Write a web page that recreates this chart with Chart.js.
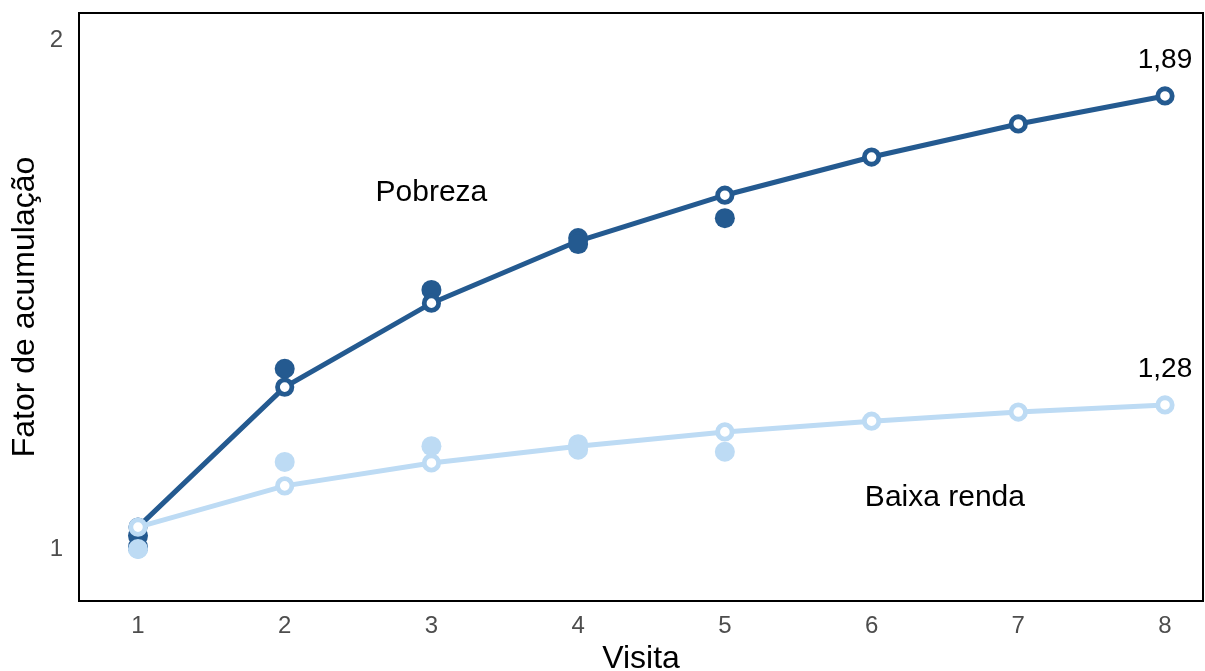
<!DOCTYPE html>
<html>
<head>
<meta charset="utf-8">
<script src="https://cdn.jsdelivr.net/npm/chart.js@4"></script>
<style>
  html, body { margin: 0; padding: 0; background: #fff; }
  #wrap { width: 1205px; height: 671px; }
</style>
</head>
<body>
<div id="wrap"><canvas id="accChart" width="1205" height="671"></canvas></div>
<script>
// visits on the x axis
const visits = [1, 2, 3, 4, 5, 6, 7, 8];
const xTicks = [1, 2, 3, 4, 5, 6, 7, 8];
const yTicks = [1, 2];

// fitted accumulation factor (lines with hollow points)
const pobrezaFit = [1.043, 1.318, 1.483, 1.605, 1.695, 1.770, 1.835, 1.890];
const baixaFit = [1.043, 1.124, 1.169, 1.202, 1.230, 1.251, 1.269, 1.283];

// observed values (filled dots), drawn below the lines
const pobrezaObsVisitsA = [1, 2, 3, 4];
const pobrezaObsA = [1.026, 1.354, 1.509, 1.611];
const baixaObsVisitsA = [1, 2, 3, 4];
const baixaObsA = [1.0, 1.171, 1.202, 1.206];

// observed values drawn on top of the lines
const pobrezaObsVisitsB = [1, 4, 5];
const pobrezaObsB = [1.004, 1.599, 1.650];
const baixaObsVisitsB = [1, 4, 5];
const baixaObsB = [1.0, 1.195, 1.191];

// text labels placed in data coordinates
const groupLabels = ['Pobreza', 'Baixa renda'];
const groupLabelX = [3, 6.5];
const groupLabelY = [1.699, 1.100];

const dark = '#245a90';
const light = '#bddbf4';
const fontFamily = '"Liberation Sans", Arial, sans-serif';

const pairs = (xs, ys) => xs.map((x, i) => ({ x: x, y: ys[i] }));

const obsStyle = (color) => ({
  type: 'scatter',
  backgroundColor: color,
  borderColor: color,
  pointRadius: 10,
  pointBorderWidth: 0,
  pointHoverRadius: 10,
  showLine: false
});

const fitStyle = (color) => ({
  type: 'line',
  borderColor: color,
  borderWidth: 5,
  pointBackgroundColor: '#ffffff',
  pointBorderColor: color,
  pointRadius: 7.2,
  pointBorderWidth: 4.8,
  pointHoverRadius: 7.2,
  tension: 0,
  fill: false
});

// no automatic label overflow padding, the plot box is fixed
const noPad = (s) => {
  s.paddingTop = 0;
  s.paddingBottom = 0;
  s.paddingLeft = 0;
  s.paddingRight = 0;
};

const textPlugin = {
  id: 'frameAndText',
  afterDraw(chart) {
    const { ctx, chartArea: a, scales } = chart;
    ctx.save();
    ctx.strokeStyle = '#000';
    ctx.lineWidth = 2;
    ctx.strokeRect(a.left, a.top, a.right - a.left, a.bottom - a.top);

    ctx.fillStyle = '#000';
    ctx.font = '30px ' + fontFamily;
    ctx.textAlign = 'center';
    ctx.textBaseline = 'middle';
    groupLabels.forEach((t, i) => {
      ctx.fillText(t, scales.x.getPixelForValue(groupLabelX[i]), scales.y.getPixelForValue(groupLabelY[i]));
    });

    // end values above the last fitted point
    ctx.font = '28px ' + fontFamily;
    [pobrezaFit, baixaFit].forEach(series => {
      const last = series[series.length - 1];
      const px = scales.x.getPixelForValue(visits[visits.length - 1]);
      const py = scales.y.getPixelForValue(last);
      ctx.fillText(last.toFixed(2).replace('.', ','), px, py - 36);
    });
    ctx.restore();
  }
};

new Chart(document.getElementById('accChart').getContext('2d'), {
  data: {
    datasets: [
      Object.assign(obsStyle(dark), { label: 'Pobreza obs A', data: pairs(pobrezaObsVisitsA, pobrezaObsA), order: 6 }),
      Object.assign(obsStyle(light), { label: 'Baixa renda obs A', data: pairs(baixaObsVisitsA, baixaObsA), order: 5 }),
      Object.assign(fitStyle(dark), { label: 'Pobreza', data: pairs(visits, pobrezaFit), order: 4 }),
      Object.assign(fitStyle(light), { label: 'Baixa renda', data: pairs(visits, baixaFit), order: 3 }),
      Object.assign(obsStyle(dark), { label: 'Pobreza obs B', data: pairs(pobrezaObsVisitsB, pobrezaObsB), order: 2 }),
      Object.assign(obsStyle(light), { label: 'Baixa renda obs B', data: pairs(baixaObsVisitsB, baixaObsB), order: 1 })
    ]
  },
  options: {
    responsive: false,
    animation: false,
    devicePixelRatio: 1,
    layout: { autoPadding: false, padding: { top: 13, right: 2, left: 0, bottom: 0 } },
    plugins: {
      legend: { display: false },
      tooltip: { enabled: false }
    },
    scales: {
      x: {
        type: 'linear',
        min: 0.5979,
        max: 8.259,
        grid: { display: false, drawTicks: false },
        border: { display: false },
        afterBuildTicks: (s) => { s.ticks = xTicks.map(v => ({ value: v })); },
        afterFit: (s) => { s.height = 70; noPad(s); },
        ticks: {
          color: '#4d4d4d',
          padding: 11,
          font: { family: fontFamily, size: 24 }
        },
        title: {
          display: true,
          text: 'Visita',
          color: '#000',
          padding: { top: 0, bottom: 0 },
          font: { family: fontFamily, size: 32, lineHeight: 0.75 }
        }
      },
      y: {
        type: 'linear',
        min: 0.8978,
        max: 2.053,
        grid: { display: false, drawTicks: false },
        border: { display: false },
        afterBuildTicks: (s) => { s.ticks = yTicks.map(v => ({ value: v })); },
        afterFit: (s) => { s.width = 79; noPad(s); },
        ticks: {
          color: '#4d4d4d',
          padding: 16,
          font: { family: fontFamily, size: 24 }
        },
        title: {
          display: true,
          text: 'Fator de acumulação',
          color: '#000',
          padding: { top: 9, bottom: 0 },
          font: { family: fontFamily, size: 32, lineHeight: 1 }
        }
      }
    }
  },
  plugins: [textPlugin]
});
</script>
</body>
</html>
